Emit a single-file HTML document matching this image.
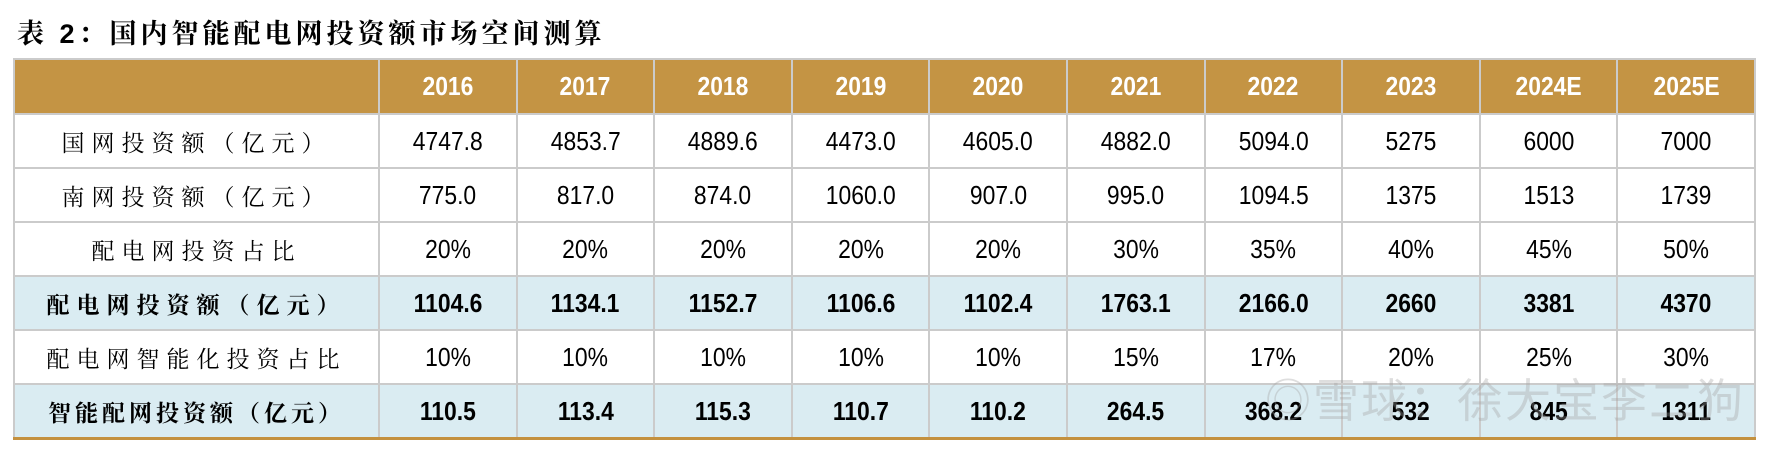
<!DOCTYPE html>
<html><head><meta charset="utf-8">
<style>
html,body{margin:0;padding:0;background:#fff;}
body{width:1780px;height:451px;position:relative;overflow:hidden;font-family:"Liberation Sans","Noto Sans CJK SC",sans-serif;}
.title{position:absolute;left:17px;top:12px;font-family:"Liberation Sans","Noto Serif CJK SC",serif;font-weight:bold;font-size:27px;letter-spacing:4px;color:#000;white-space:nowrap;}
table{position:absolute;left:13px;top:58px;border-collapse:collapse;table-layout:fixed;border-bottom:3px solid #c4913f;}
td{border:2px solid #cbcbcb;text-align:center;padding:0;font-size:26px;color:#000;white-space:nowrap;}
td span{display:inline-block;transform:scaleX(0.88);}
td.lab{font-family:"Liberation Serif","Noto Serif CJK SC",serif;font-size:23px;letter-spacing:7px;}
tr.head td{background:#c49444;color:#fff;font-weight:bold;font-size:26px;height:53px;}
tr.body td{height:52px;}
tr.blue td{background:#daecf2;font-weight:bold;}
.wm{position:absolute;left:1265px;top:365px;font-size:46px;color:rgba(160,160,160,0.35);font-family:"Liberation Sans","Noto Sans CJK SC",sans-serif;letter-spacing:2px;white-space:nowrap;}
</style></head><body>
<div class="title">表 2：国内智能配电网投资额市场空间测算</div>
<table>
<colgroup><col style="width:365px"><col span="10" style="width:137.6px"></colgroup>
<tr class="head"><td></td><td><span>2016</span></td><td><span>2017</span></td><td><span>2018</span></td><td><span>2019</span></td><td><span>2020</span></td><td><span>2021</span></td><td><span>2022</span></td><td><span>2023</span></td><td><span>2024E</span></td><td><span>2025E</span></td></tr>
<tr class="body"><td class="lab">国网投资额（亿元）</td><td><span>4747.8</span></td><td><span>4853.7</span></td><td><span>4889.6</span></td><td><span>4473.0</span></td><td><span>4605.0</span></td><td><span>4882.0</span></td><td><span>5094.0</span></td><td><span>5275</span></td><td><span>6000</span></td><td><span>7000</span></td></tr>
<tr class="body"><td class="lab">南网投资额（亿元）</td><td><span>775.0</span></td><td><span>817.0</span></td><td><span>874.0</span></td><td><span>1060.0</span></td><td><span>907.0</span></td><td><span>995.0</span></td><td><span>1094.5</span></td><td><span>1375</span></td><td><span>1513</span></td><td><span>1739</span></td></tr>
<tr class="body"><td class="lab">配电网投资占比</td><td><span>20%</span></td><td><span>20%</span></td><td><span>20%</span></td><td><span>20%</span></td><td><span>20%</span></td><td><span>30%</span></td><td><span>35%</span></td><td><span>40%</span></td><td><span>45%</span></td><td><span>50%</span></td></tr>
<tr class="body blue"><td class="lab">配电网投资额（亿元）</td><td><span>1104.6</span></td><td><span>1134.1</span></td><td><span>1152.7</span></td><td><span>1106.6</span></td><td><span>1102.4</span></td><td><span>1763.1</span></td><td><span>2166.0</span></td><td><span>2660</span></td><td><span>3381</span></td><td><span>4370</span></td></tr>
<tr class="body"><td class="lab">配电网智能化投资占比</td><td><span>10%</span></td><td><span>10%</span></td><td><span>10%</span></td><td><span>10%</span></td><td><span>10%</span></td><td><span>15%</span></td><td><span>17%</span></td><td><span>20%</span></td><td><span>25%</span></td><td><span>30%</span></td></tr>
<tr class="body blue"><td class="lab" style="letter-spacing:4px">智能配网投资额（亿元）</td><td><span>110.5</span></td><td><span>113.4</span></td><td><span>115.3</span></td><td><span>110.7</span></td><td><span>110.2</span></td><td><span>264.5</span></td><td><span>368.2</span></td><td><span>532</span></td><td><span>845</span></td><td><span>1311</span></td></tr>
</table>
<div class="wm">◎雪球：徐大宝李二狗</div>
</body></html>
